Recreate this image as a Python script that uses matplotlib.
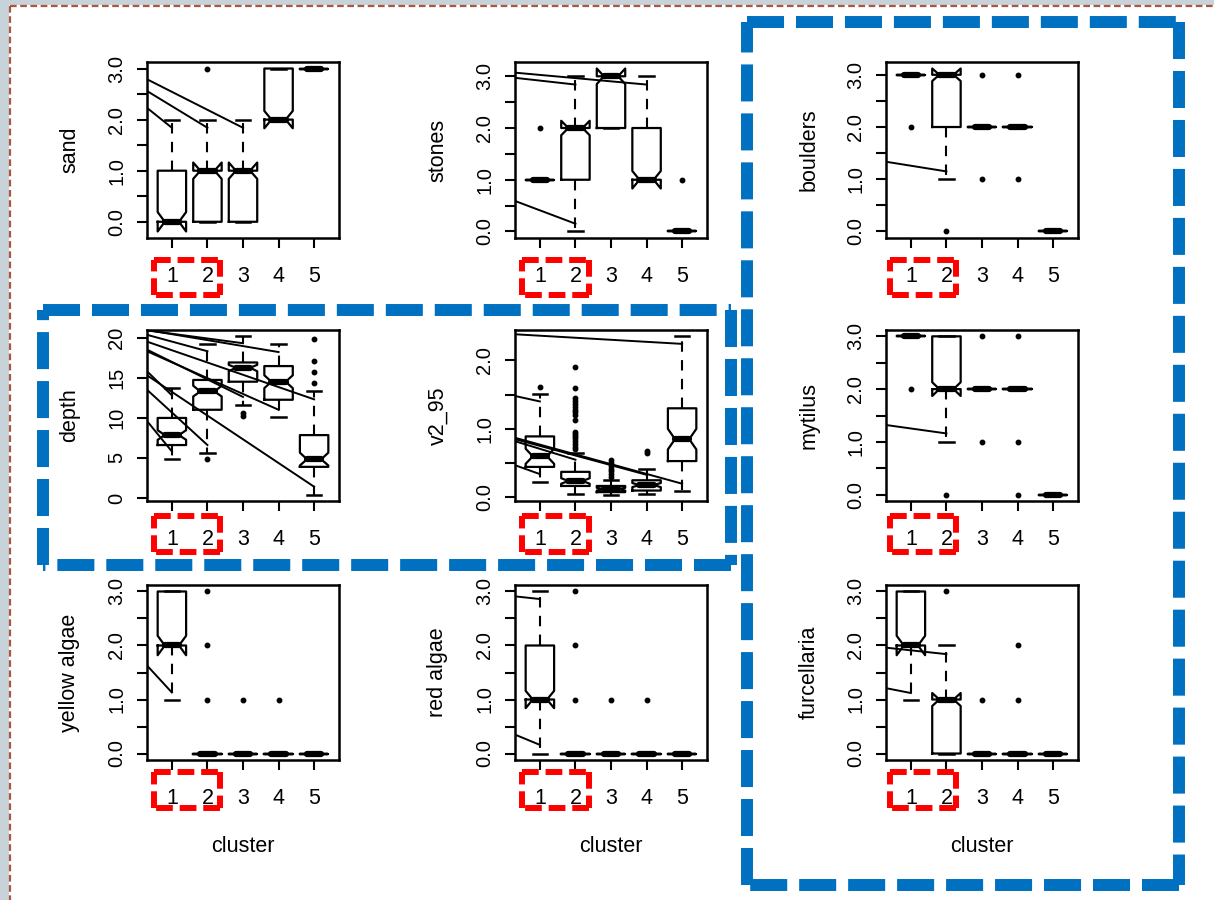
import matplotlib
matplotlib.use('Agg')
import matplotlib.pyplot as plt
from matplotlib.patches import Rectangle
import numpy as np

plt.rcParams['font.family'] = ['Liberation Sans', 'DejaVu Sans']

# ── Data ──────────────────────────────────────────────────────────────────────
clusters = [1, 2, 3, 4, 5]

# per cluster: (whislo, q1, med, q3, whishi, notch_lo, notch_hi)
sand_stats = [(0, 0, 0, 1, 2, -0.19, 0.19),
              (0, 0, 1, 1, 2, 0.84, 1.16),
              (0, 0, 1, 1, 2, 0.84, 1.16),
              (2, 2, 2, 3, 3, 1.83, 2.17),
              (3, 3, 3, 3, 3, 3, 3)]
sand_out = [[], [3], [], [], []]

stones_stats = [(1, 1, 1, 1, 1, 1, 1),
                (0, 1, 2, 2, 3, 1.86, 2.14),
                (2, 2, 3, 3, 3, 2.85, 3.15),
                (1, 1, 1, 2, 3, 0.83, 1.17),
                (0, 0, 0, 0, 0, 0, 0)]
stones_out = [[2], [], [], [], [1]]

boulders_stats = [(3, 3, 3, 3, 3, 3, 3),
                  (1, 2, 3, 3, 3, 2.88, 3.12),
                  (2, 2, 2, 2, 2, 2, 2),
                  (2, 2, 2, 2, 2, 2, 2),
                  (0, 0, 0, 0, 0, 0, 0)]
boulders_out = [[2], [0], [3, 1], [3, 1], []]

depth_stats = [(4.82, 6.6, 7.84, 9.98, 13.77, 7.25, 8.45),
               (5.65, 11.0, 13.28, 14.72, 19.18, 12.66, 14.0),
               (11.55, 14.5, 16.25, 16.9, 20.16, 15.8, 16.6),
               (10.06, 12.25, 14.5, 16.45, 19.18, 13.7, 15.3),
               (0.41, 3.88, 4.82, 7.84, 13.28, 4.05, 5.65)]
depth_out = [[], [4.82], [10.6, 10.2], [], [19.8, 17.1, 15.7, 14.4]]

v2_stats = [(0.22, 0.445, 0.6, 0.89, 1.51, 0.49, 0.71),
            (0.05, 0.167, 0.24, 0.373, 0.65, 0.2, 0.28),
            (0.04, 0.077, 0.12, 0.167, 0.25, 0.1, 0.14),
            (0.05, 0.1, 0.18, 0.25, 0.42, 0.15, 0.21),
            (0.09, 0.53, 0.85, 1.3, 2.35, 0.7, 1.0)]
v2_out = [[1.61],
          [0.70, 0.74, 0.78, 0.82, 0.86, 0.89, 0.92, 0.95, 1.13, 1.2, 1.24,
           1.28, 1.32, 1.36, 1.4, 1.45, 1.6, 1.9],
          [0.3, 0.34, 0.38, 0.42, 0.46, 0.5, 0.55],
          [0.65, 0.68],
          []]

mytilus_stats = [(3, 3, 3, 3, 3, 3, 3),
                 (1, 2, 2, 3, 3, 1.87, 2.13),
                 (2, 2, 2, 2, 2, 2, 2),
                 (2, 2, 2, 2, 2, 2, 2),
                 (0, 0, 0, 0, 0, 0, 0)]
mytilus_out = [[2], [0], [3, 1], [3, 1, 0], []]

yellow_stats = [(1, 2, 2, 3, 3, 1.82, 2.18),
                (0, 0, 0, 0, 0, 0, 0),
                (0, 0, 0, 0, 0, 0, 0),
                (0, 0, 0, 0, 0, 0, 0),
                (0, 0, 0, 0, 0, 0, 0)]
yellow_out = [[], [3, 2, 1], [1], [1], []]

red_stats = [(0, 1, 1, 2, 3, 0.84, 1.16),
             (0, 0, 0, 0, 0, 0, 0),
             (0, 0, 0, 0, 0, 0, 0),
             (0, 0, 0, 0, 0, 0, 0),
             (0, 0, 0, 0, 0, 0, 0)]
red_out = [[], [3, 2, 1], [1], [1], []]

furc_stats = [(1, 2, 2, 3, 3, 1.82, 2.18),
              (0, 0, 1, 1, 2, 0.88, 1.12),
              (0, 0, 0, 0, 0, 0, 0),
              (0, 0, 0, 0, 0, 0, 0),
              (0, 0, 0, 0, 0, 0, 0)]
furc_out = [[], [3], [1], [2, 1], []]

# stray lines: (value at left edge, end cluster, end value)
sand_lines = [(2.23, 1, 1.84), (2.56, 2, 1.84), (2.79, 3, 1.84)]
stones_lines = [(3.07, 4, 2.84), (2.97, 2, 2.84), (0.59, 2, 0.15)]
boulders_lines = [(1.335, 2, 1.15)]
depth_lines = [(20.95, 4, 18.2), (20.9, 3, 19.3), (20.35, 2, 18.3),
               (19.5, 5, 12.3), (18.5, 3, 12.6), (18.3, 4, 11.0),
               (15.8, 1, 12.8), (15.3, 5, 1.4), (13.5, 2, 6.6),
               (9.6, 1, 5.8)]
v2_lines = [(2.38, 5, 2.24), (1.48, 1, 1.40), (0.47, 1, 0.34),
            (0.87, 5, 0.2), (0.85, 4, 0.33), (0.82, 2, 0.55)]
mytilus_lines = [(1.32, 2, 1.16)]
yellow_lines = [(1.63, 1, 1.13)]
red_lines = [(2.91, 1, 2.86), (0.35, 1, 0.16)]
furc_lines = [(1.96, 2, 1.84), (1.21, 1, 1.12)]

ticks_03 = [0, 0.5, 1, 1.5, 2, 2.5, 3]
labels_03 = ['0.0', '', '1.0', '', '2.0', '', '3.0']
ticks_depth = [0, 5, 10, 15, 20]
labels_depth = ['0', '5', '10', '15', '20']
ticks_v2 = [0, 0.5, 1, 1.5, 2]
labels_v2 = ['0.0', '', '1.0', '', '2.0']

panels = [
    ('sand', sand_stats, sand_out, sand_lines, ticks_03, labels_03),
    ('stones', stones_stats, stones_out, stones_lines, ticks_03, labels_03),
    ('boulders', boulders_stats, boulders_out, boulders_lines, ticks_03, labels_03),
    ('depth', depth_stats, depth_out, depth_lines, ticks_depth, labels_depth),
    ('v2_95', v2_stats, v2_out, v2_lines, ticks_v2, labels_v2),
    ('mytilus', mytilus_stats, mytilus_out, mytilus_lines, ticks_03, labels_03),
    ('yellow algae', yellow_stats, yellow_out, yellow_lines, ticks_03, labels_03),
    ('red algae', red_stats, red_out, red_lines, ticks_03, labels_03),
    ('furcellaria', furc_stats, furc_out, furc_lines, ticks_03, labels_03),
]

# ── Layout (pixels) ───────────────────────────────────────────────────────────
W, H = 1214, 900
col_left = [147, 515, 886]
row_top = [62, 330, 585]
row_bot = [238, 501, 760]
ax_w = 192
XLIM = (0.3, 5.7)

fig = plt.figure(figsize=(W / 100, H / 100), dpi=100)
fig.patch.set_facecolor('white')

for i, (name, st, out, lines, yt, yl) in enumerate(panels):
    r, c = divmod(i, 3)
    h = row_bot[r] - row_top[r]
    ax = fig.add_axes([col_left[c] / W, 1 - row_bot[r] / H, ax_w / W, h / H])

    stats = []
    for s, o in zip(st, out):
        stats.append(dict(whislo=s[0], q1=s[1], med=s[2], q3=s[3], whishi=s[4],
                          cilo=s[5], cihi=s[6], fliers=np.array(o, dtype=float)))
    ax.bxp(stats, positions=clusters, widths=0.8, shownotches=True,
           boxprops=dict(color='black', linewidth=1.6),
           whiskerprops=dict(color='black', linewidth=1.5, linestyle=(0, (5, 4))),
           capprops=dict(color='black', linewidth=1.8),
           medianprops=dict(color='black', linewidth=4.5, solid_capstyle='round'),
           flierprops=dict(marker='o', markerfacecolor='black', markeredgecolor='black',
                           markersize=3.2, linestyle='none'))

    for y0, xe, ye in lines:
        ax.plot([XLIM[0], xe], [y0, ye], color='black', linewidth=1.4)

    # R-style range: stats + notches + outliers, padded 4%
    vals = [v for s in st for v in s] + [v for o in out for v in o]
    lo, hi = min(vals), max(vals)
    pad = 0.04 * (hi - lo)
    ax.set_ylim(lo - pad, hi + pad)
    ax.set_xlim(*XLIM)

    ax.set_xticks(clusters)
    ax.set_xticklabels([str(k) for k in clusters])
    ax.set_yticks(yt)
    ax.set_yticklabels(yl)
    ax.tick_params(direction='out', length=7.5, width=1.5, colors='black')
    ax.tick_params(axis='x', labelsize=15.5, pad=13)
    ax.tick_params(axis='y', labelsize=14.5, pad=7.5)
    for t in ax.get_yticklabels():
        t.set_rotation(90)
        t.set_va('center')
    for sp in ax.spines.values():
        sp.set_linewidth(1.8)

    ax.set_ylabel(name, fontsize=15.5, va='center')
    ax.yaxis.set_label_coords(-77 / ax_w, 0.5)
    if r == 2:
        ax.set_xlabel('cluster', fontsize=15.5, va='center')
        ax.xaxis.set_label_coords(0.5, -87 / h)

# ── Annotation overlay (pixel coords) ─────────────────────────────────────────
ov = fig.add_axes([0, 0, 1, 1], zorder=10)
ov.set_xlim(0, W)
ov.set_ylim(H, 0)
ov.axis('off')
ov.patch.set_alpha(0)

ov.add_patch(Rectangle((0, 0), W, 5, color='#C8D2D9', lw=0))
ov.add_patch(Rectangle((0, 0), 9, H, color='#C8D2D9', lw=0))
ov.plot([10, W], [5.5, 5.5], color='#A9573F', lw=1.6, linestyle=(0, (3, 1.6)))
ov.plot([10, 10], [5.5, H], color='#A9573F', lw=1.6, linestyle=(0, (3, 1.6)))


def dashed_box(x0, y0, x1, y1, color, lw, dash):
    for xs, ys in (([x0, x1], [y0, y0]), ([x1, x1], [y0, y1]),
                   ([x1, x0], [y1, y1]), ([x0, x0], [y1, y0])):
        ov.plot(xs, ys, color=color, lw=lw, linestyle=(0, dash),
                solid_capstyle='butt', dash_capstyle='butt')


blue = '#0070C0'
dashed_box(747, 22, 1179, 885, blue, 8.6, (3.1, 1.0))
dashed_box(43, 310, 731, 565, blue, 8.6, (3.1, 1.0))

red_x = [(154, 220), (522, 589), (890, 956)]
red_y = [(260, 295), (516, 552), (772, 808)]
for ry in red_y:
    for rx in red_x:
        dashed_box(rx[0], ry[0], rx[1], ry[1], '#FF0000', 4.3, (2.8, 1.15))

fig.savefig('out.png', dpi=100)
